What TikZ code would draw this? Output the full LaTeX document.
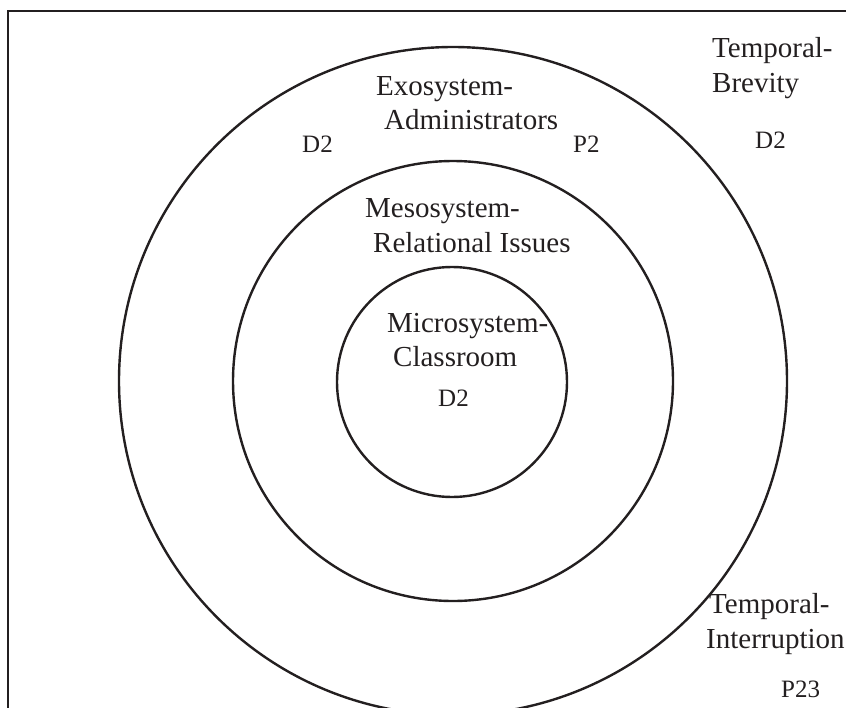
\documentclass[tikz,border=0pt]{standalone}
\usepackage{fontspec}
\setmainfont{Liberation Serif}
\definecolor{ink}{HTML}{231F20}
\begin{document}
\begin{tikzpicture}[x=1pt,y=-1pt,
  ring/.style={circle,draw=ink,line width=2.4pt,inner sep=0pt},
  lbl/.style={anchor=base west,inner sep=0pt,text=ink,font=\fontsize{29}{34}\selectfont},
  code/.style={anchor=base west,inner sep=0pt,text=ink,font=\fontsize{25}{30}\selectfont}]
\useasboundingbox (0,0) rectangle (846,707);
\clip (0,0) rectangle (846,707);
% outer frame (runs past the right and bottom edges)
\draw[ink,line width=2pt] (8,730) -- (8,11) -- (870,11);
% nested systems
\node[ring,minimum size=668pt] (exo) at (453,381) {};
\node[ring,minimum size=440pt] (meso) at (453,381) {};
\node[ring,minimum size=230pt] (micro) at (452,382) {};
% exosystem labels
\node[lbl] (exoA) at (376,95) {Exosystem-};
\node[lbl] (exoB) at (384,129) {Administrators};
\node[code] (exoD) at (302,152) {D2};
\node[code] (exoP) at (573,152) {P2};
% mesosystem labels
\node[lbl] (mesoA) at (365,217) {Mesosystem-};
\node[lbl] (mesoB) at (373,252) {Relational Issues};
% microsystem labels
\node[lbl] (microA) at (387,332) {Microsystem-};
\node[lbl] (microB) at (393,366) {Classroom};
\node[code] (microD) at (438,406) {D2};
% temporal labels
\node[lbl] (brevA) at (712,57) {Temporal-};
\node[lbl] (brevB) at (712,92) {Brevity};
\node[code] (brevD) at (755,148) {D2};
\node[lbl] (intA) at (709,613) {Temporal-};
\node[lbl] (intB) at (706,648) {Interruption};
\node[code] (intP) at (781,697) {P23};
\end{tikzpicture}
\end{document}
